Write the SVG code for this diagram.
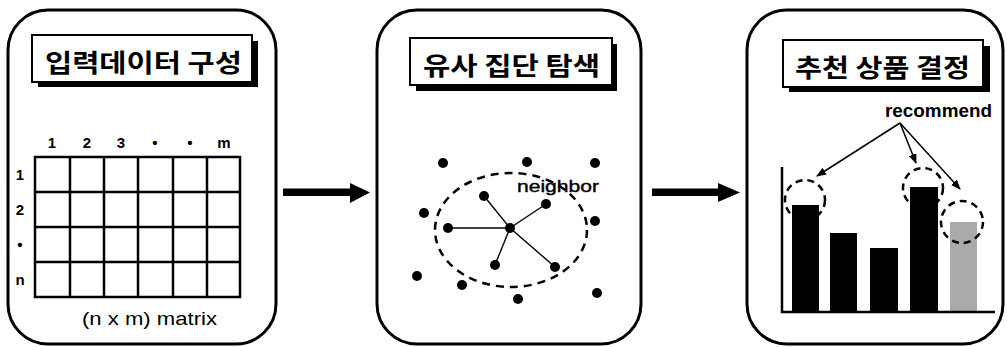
<svg xmlns="http://www.w3.org/2000/svg" width="1007" height="347" viewBox="0 0 1007 347">
<style>
.panel{fill:#fff;stroke:#000;stroke-width:3}
.tshadow{fill:#000}
.tbox{fill:#fff;stroke:#000;stroke-width:2}
.title{font-family:"Noto Sans CJK KR","Noto Sans",sans-serif;font-weight:bold;font-size:25px;fill:#000}
.lbl{font-family:"Liberation Sans",Arial,sans-serif;font-weight:bold;font-size:15px;fill:#000;text-anchor:middle}
.txt{font-family:"Liberation Sans",Arial,sans-serif;font-size:18px;fill:#000}
.grid{fill:none;stroke:#000;stroke-width:2.5}
.dot{fill:#000}
.spoke{stroke:#000;stroke-width:1.4}
.dash{fill:none;stroke:#000;stroke-width:2.5;stroke-dasharray:8 6}
.bar{fill:#000}
.thin{stroke:#000;stroke-width:1.5;fill:none}
</style>
<defs>
<marker id="ah" markerWidth="10" markerHeight="8" refX="9" refY="4" orient="auto" markerUnits="userSpaceOnUse">
<path d="M0,0 L10,4 L0,8 Z" fill="#000"/>
</marker>
</defs>

<g id="panel1">
<rect class="panel" x="8" y="10" width="268" height="334" rx="40"/>
<rect class="tshadow" x="38" y="41" width="220" height="46"/>
<rect class="tbox" x="32" y="35" width="220" height="47"/>
<text class="title" x="45" y="72" textLength="197" lengthAdjust="spacingAndGlyphs">입력데이터 구성</text>
<g class="grid">
<rect x="35" y="157" width="205" height="140"/>
<path d="M70,157V297M104,157V297M138,157V297M173,157V297M207,157V297M35,192H240M35,227H240M35,262H240"/>
</g>
<text class="lbl" x="52" y="148">1</text>
<text class="lbl" x="87" y="148">2</text>
<text class="lbl" x="121" y="148">3</text>
<text class="lbl" x="155" y="148">•</text>
<text class="lbl" x="190" y="148">•</text>
<text class="lbl" x="224" y="148">m</text>
<text class="lbl" x="20" y="180">1</text>
<text class="lbl" x="20" y="215">2</text>
<text class="lbl" x="20" y="250">•</text>
<text class="lbl" x="20" y="285">n</text>
<text class="txt" x="82" y="325" textLength="135" lengthAdjust="spacingAndGlyphs">(n x m) matrix</text>
</g>

<g id="panel2">
<rect class="panel" x="377" y="10" width="264" height="334" rx="40"/>
<rect class="tshadow" x="416" y="44" width="201" height="47"/>
<rect class="tbox" x="410" y="38" width="202" height="47"/>
<text class="title" x="423" y="75" textLength="177" lengthAdjust="spacingAndGlyphs">유사 집단 탐색</text>
<ellipse class="dash" cx="511" cy="230" rx="76" ry="57"/>
<g class="spoke">
<line x1="510" y1="228" x2="484" y2="196"/>
<line x1="510" y1="228" x2="546" y2="204"/>
<line x1="510" y1="228" x2="448" y2="228"/>
<line x1="510" y1="228" x2="495" y2="265"/>
<line x1="510" y1="228" x2="555" y2="267"/>
</g>
<g class="dot">
<circle cx="443" cy="163" r="5"/>
<circle cx="527" cy="162" r="5"/>
<circle cx="595" cy="163" r="5"/>
<circle cx="484" cy="196" r="5"/>
<circle cx="546" cy="204" r="5"/>
<circle cx="424" cy="213" r="5"/>
<circle cx="448" cy="228" r="5"/>
<circle cx="510" cy="228" r="5"/>
<circle cx="595" cy="221" r="5"/>
<circle cx="495" cy="265" r="5"/>
<circle cx="555" cy="267" r="5"/>
<circle cx="417" cy="276" r="5"/>
<circle cx="462" cy="285" r="5"/>
<circle cx="518" cy="299" r="5"/>
<circle cx="597" cy="293" r="5"/>
</g>
<text class="txt" x="517" y="192" style="font-size:17px;stroke:#000;stroke-width:0.4" textLength="82" lengthAdjust="spacingAndGlyphs">neighbor</text>
</g>

<g id="panel3">
<rect class="panel" x="747" y="10" width="256" height="334" rx="40"/>
<rect class="tshadow" x="789" y="46" width="201" height="46"/>
<rect class="tbox" x="783" y="40" width="200" height="47"/>
<text class="title" x="795" y="77" textLength="175" lengthAdjust="spacingAndGlyphs">추천 상품 결정</text>
<text class="txt" x="885" y="117" style="font-weight:bold" textLength="107" lengthAdjust="spacingAndGlyphs">recommend</text>
<rect class="bar" x="792" y="205" width="27" height="107"/>
<rect class="bar" x="830" y="233" width="27" height="79"/>
<rect class="bar" x="870" y="248" width="28" height="64"/>
<rect class="bar" x="910" y="187" width="28" height="125"/>
<rect x="950" y="222" width="27" height="90" fill="#aaa"/>
<path class="thin" style="stroke-width:2.5" d="M782,167V312H995"/>
<circle class="dash" cx="805" cy="200" r="20" style="stroke-dasharray:7 5"/>
<circle class="dash" cx="923" cy="188" r="20" style="stroke-dasharray:7 5"/>
<circle class="dash" cx="962" cy="222" r="21" style="stroke-dasharray:7 5"/>
</g>

<g id="connectors">
<path d="M283,188.5H350V183L370,192.5L350,203V196H283Z" fill="#000"/>
<path d="M652,188.5H718V183L740,192.5L718,202V196H652Z" fill="#000"/>
<line class="thin" x1="900" y1="123" x2="817" y2="176" marker-end="url(#ah)"/>
<line class="thin" x1="900" y1="123" x2="916" y2="163" marker-end="url(#ah)"/>
<line class="thin" x1="900" y1="123" x2="960" y2="189" marker-end="url(#ah)"/>
</g>
</svg>
